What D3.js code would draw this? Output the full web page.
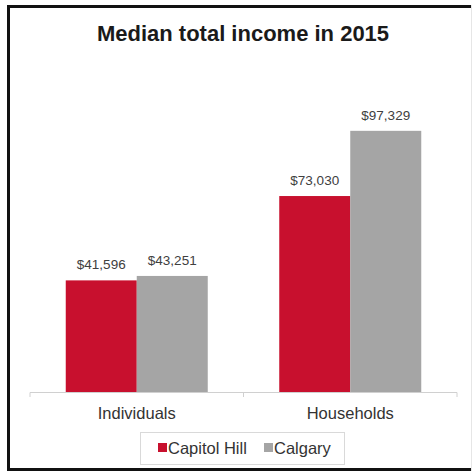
<!DOCTYPE html>
<html lang="en">
<head>
<meta charset="UTF-8"/>
<title>Median total income in 2015</title>
<script src="https://d3js.org/d3.v7.min.js"></script>
<style>
    html, body { margin: 0; background: #fff; overflow: hidden; }
    svg { display: block; }
    text { font-family: "Liberation Sans", Arial, sans-serif; }
</style>
</head>
<body>
<div id="chart"></div>
<script>
// data
var categories = ["Individuals", "Households"];
var seriesNames = ["Capitol Hill", "Calgary"];
var capitolHill = [41596, 73030];
var calgary = [43251, 97329];
var colors = ["#c8102e", "#a5a5a5"];

var W = 472, H = 473;
var svg = d3.select("#chart").append("svg")
    .attr("width", W).attr("height", H);

// outer frame: left, top and bottom in black, faint line at the far right
svg.append("path")
    .attr("d", "M472,6.5H8.5V469.5H472")
    .attr("fill", "none").attr("stroke", "#111").attr("stroke-width", 3);
svg.append("line")
    .attr("x1", 471.5).attr("x2", 471.5).attr("y1", 5).attr("y2", 471)
    .attr("stroke", "#e6e6e6");

svg.append("text")
    .attr("x", 243).attr("y", 41)
    .attr("text-anchor", "middle")
    .style("font-size", "22px").style("font-weight", "bold")
    .attr("fill", "#1a1a1a")
    .text("Median total income in 2015");

// scales
var baseline = 392;
var x0 = d3.scaleBand().domain(categories).range([30, 457]);
var x1 = d3.scaleBand().domain(seriesNames).range([0, 142]);
var y = d3.scaleLinear().domain([0, 120000]).range([baseline, baseline - 322]);

var rows = categories.map(function (c, i) {
    return {cat: c, values: [capitolHill[i], calgary[i]]};
});

var groups = svg.append("g").selectAll("g")
    .data(rows).enter().append("g")
    .attr("transform", function (d) {
        return "translate(" + (x0(d.cat) + (x0.bandwidth() - 142) / 2) + ",0)";
    });

groups.selectAll("rect")
    .data(function (d) { return d.values.map(function (v, j) { return {s: seriesNames[j], v: v, j: j}; }); })
    .enter().append("rect")
    .attr("x", function (d) { return x1(d.s); })
    .attr("y", function (d) { return y(d.v); })
    .attr("width", x1.bandwidth())
    .attr("height", function (d) { return baseline - y(d.v); })
    .attr("fill", function (d) { return colors[d.j]; });

groups.selectAll("text")
    .data(function (d) { return d.values.map(function (v, j) { return {s: seriesNames[j], v: v}; }); })
    .enter().append("text")
    .attr("x", function (d) { return x1(d.s) + x1.bandwidth() / 2; })
    .attr("y", function (d) { return y(d.v) - 11; })
    .attr("text-anchor", "middle")
    .style("font-size", "13.5px")
    .attr("fill", "#404040")
    .text(function (d) { return "$" + d3.format(",")(d.v); });

// x axis
var axis = svg.append("g")
    .attr("transform", "translate(0," + baseline + ")")
    .call(d3.axisBottom(x0).tickSize(0).tickPadding(15));
axis.select(".domain").attr("stroke", "#d0d0d0").attr("d", "M30,5V0.5H457V5");
axis.selectAll("text")
    .style("font-size", "16.5px").attr("fill", "#333")
    .style("font-family", "Liberation Sans, Arial, sans-serif");
axis.append("line").attr("x1", 243.5).attr("x2", 243.5).attr("y1", 0).attr("y2", 5)
    .attr("stroke", "#d0d0d0");

// legend
var lg = svg.append("g");
lg.append("rect").attr("x", 140.5).attr("y", 432.5).attr("width", 204).attr("height", 32)
    .attr("fill", "#fff").attr("stroke", "#d9d9d9");
var legendX = [158, 264];
seriesNames.forEach(function (s, i) {
    lg.append("rect").attr("x", legendX[i]).attr("y", 443).attr("width", 9).attr("height", 9)
        .attr("fill", colors[i]);
    lg.append("text").attr("x", legendX[i] + 10).attr("y", 454)
        .style("font-size", "16.5px").attr("fill", "#333").text(s);
});
</script>
</body>
</html>
